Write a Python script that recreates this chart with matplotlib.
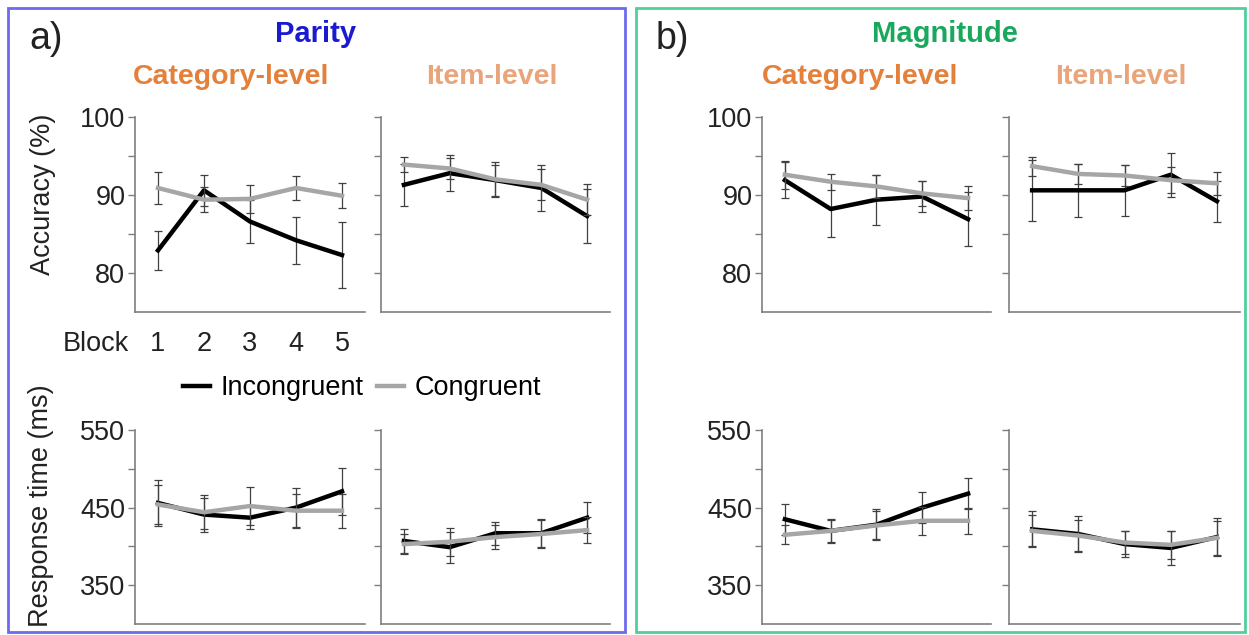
import matplotlib
matplotlib.use("Agg")
import matplotlib.pyplot as plt
import numpy as np
from matplotlib.patches import Rectangle
from matplotlib.lines import Line2D

plt.rcParams['font.family'] = ['Liberation Sans', 'DejaVu Sans']

blocks = [1, 2, 3, 4, 5]

# Parity - Category-level
par_cat_acc_inc = [82.9, 90.6, 86.6, 84.2, 82.3]
par_cat_acc_inc_err = [2.5, 2.0, 2.8, 3.0, 4.2]
par_cat_acc_con = [90.9, 89.4, 89.5, 90.9, 89.9]
par_cat_acc_con_err = [2.0, 1.6, 1.8, 1.5, 1.6]
par_cat_rt_inc = [456, 441, 437, 450, 471]
par_cat_rt_inc_err = [30, 22, 15, 25, 30]
par_cat_rt_con = [454, 444, 452, 446, 446]
par_cat_rt_con_err = [25, 22, 25, 22, 22]

# Parity - Item-level
par_item_acc_inc = [91.3, 92.8, 91.9, 90.9, 87.3]
par_item_acc_inc_err = [2.7, 2.3, 2.0, 3.0, 3.5]
par_item_acc_con = [93.9, 93.4, 92.0, 91.3, 89.4]
par_item_acc_con_err = [1.0, 1.3, 2.2, 2.0, 2.0]
par_item_rt_inc = [407, 399, 417, 417, 437]
par_item_rt_inc_err = [15, 20, 15, 18, 20]
par_item_rt_con = [403, 406, 412, 416, 421]
par_item_rt_con_err = [13, 18, 15, 18, 17]

# Magnitude - Category-level
mag_cat_acc_inc = [91.9, 88.2, 89.4, 89.8, 86.9]
mag_cat_acc_inc_err = [2.3, 3.6, 3.2, 2.0, 3.5]
mag_cat_acc_con = [92.6, 91.7, 91.1, 90.2, 89.6]
mag_cat_acc_con_err = [1.8, 1.0, 1.5, 1.6, 1.5]
mag_cat_rt_inc = [435, 420, 428, 450, 468]
mag_cat_rt_inc_err = [20, 15, 20, 20, 20]
mag_cat_rt_con = [415, 420, 427, 433, 433]
mag_cat_rt_con_err = [12, 14, 18, 18, 17]

# Magnitude - Item-level
mag_item_acc_inc = [90.6, 90.6, 90.6, 92.6, 89.2]
mag_item_acc_inc_err = [3.9, 3.4, 3.3, 2.8, 2.6]
mag_item_acc_con = [93.7, 92.7, 92.5, 91.9, 91.5]
mag_item_acc_con_err = [1.2, 1.3, 1.3, 1.7, 1.5]
mag_item_rt_inc = [422, 416, 403, 398, 412]
mag_item_rt_inc_err = [23, 23, 17, 22, 25]
mag_item_rt_con = [420, 414, 405, 402, 411]
mag_item_rt_con_err = [20, 20, 15, 18, 22]

INC = '#000000'
CON = '#a6a6a6'
SPINE = '#7f7f7f'
ERR = '#404040'
FS = 19.5

fig = plt.figure(figsize=(12.49, 6.35), dpi=100)
W, H = 1249, 635

def ax_at(x0, x1, y0, y1):
    return fig.add_axes([x0 / W, 1 - y1 / H, (x1 - x0) / W, (y1 - y0) / H])

def draw(ax, inc, inc_e, con, con_e, ylim, major, minor, labels):
    ax.errorbar(blocks, con, yerr=con_e, color=CON, lw=3.2, ecolor=ERR,
                elinewidth=0.9, capsize=3, capthick=0.9, zorder=3)
    ax.errorbar(blocks, inc, yerr=inc_e, color=INC, lw=3.2, ecolor=ERR,
                elinewidth=0.9, capsize=3, capthick=0.9, zorder=2)
    ax.set_xlim(0.5, 5.5)
    ax.set_ylim(*ylim)
    for s in ['top', 'right']:
        ax.spines[s].set_visible(False)
    for s in ['left', 'bottom']:
        ax.spines[s].set_color(SPINE)
        ax.spines[s].set_linewidth(1.2)
    ax.set_xticks([])
    ax.set_yticks(major)
    ax.set_yticks(minor, minor=True)
    ax.tick_params(axis='y', which='both', direction='out', length=5,
                   width=1, color=SPINE, labelsize=FS, pad=2,
                   labelcolor='#222222')
    if not labels:
        ax.set_yticklabels([])
    ax.set_facecolor('none')

acc_lim = (75, 100)
acc_major = [80, 90, 100]
acc_minor = [85, 95]
rt_lim = (300, 550)
rt_major = [350, 450, 550]
rt_minor = [400, 500]

top = (117, 312)
bot = (430, 624)
cols = [(135, 365), (381, 610), (762, 991), (1009, 1240)]

datasets = [
    (par_cat_acc_inc, par_cat_acc_inc_err, par_cat_acc_con, par_cat_acc_con_err,
     par_cat_rt_inc, par_cat_rt_inc_err, par_cat_rt_con, par_cat_rt_con_err, True),
    (par_item_acc_inc, par_item_acc_inc_err, par_item_acc_con, par_item_acc_con_err,
     par_item_rt_inc, par_item_rt_inc_err, par_item_rt_con, par_item_rt_con_err, False),
    (mag_cat_acc_inc, mag_cat_acc_inc_err, mag_cat_acc_con, mag_cat_acc_con_err,
     mag_cat_rt_inc, mag_cat_rt_inc_err, mag_cat_rt_con, mag_cat_rt_con_err, True),
    (mag_item_acc_inc, mag_item_acc_inc_err, mag_item_acc_con, mag_item_acc_con_err,
     mag_item_rt_inc, mag_item_rt_inc_err, mag_item_rt_con, mag_item_rt_con_err, False),
]

axes_top = []
for (x0, x1), d in zip(cols, datasets):
    a1 = ax_at(x0, x1, *top)
    draw(a1, d[0], d[1], d[2], d[3], acc_lim, acc_major, acc_minor, d[8])
    a2 = ax_at(x0, x1, *bot)
    draw(a2, d[4], d[5], d[6], d[7], rt_lim, rt_major, rt_minor, d[8])
    axes_top.append(a1)

# Panel frames
fig.patches.append(Rectangle((8 / W, 1 - 632 / H), (625 - 8) / W, (632 - 8) / H,
                             transform=fig.transFigure, fill=False,
                             edgecolor='#6b6bec', lw=2.0))
fig.patches.append(Rectangle((636 / W, 1 - 632 / H), (1245 - 636) / W, (632 - 8) / H,
                             transform=fig.transFigure, fill=False,
                             edgecolor='#4fcf9a', lw=2.0))

def ftext(x, y, s, **kw):
    fig.text(x / W, 1 - y / H, s, **kw)

ftext(29, 39, 'a)', fontsize=27, ha='left', va='center', color='#222222')
ftext(656, 39, 'b)', fontsize=27, ha='left', va='center', color='#222222')
ftext(316, 34, 'Parity', fontsize=21, fontweight='bold', ha='center', va='center', color='#1a1ad0')
ftext(945, 34, 'Magnitude', fontsize=21, fontweight='bold', ha='center', va='center', color='#19a85c')
for cx in (231, 860):
    ftext(cx, 77, 'Category-level', fontsize=20.5, fontweight='bold', ha='center', va='center', color='#e5803a')
for cx in (492, 1121):
    ftext(cx, 77, 'Item-level', fontsize=20.5, fontweight='bold', ha='center', va='center', color='#eaa47a')

ftext(43, 194, 'Accuracy (%)', fontsize=FS, rotation=90, ha='center', va='center', color='#222222')
ftext(41, 506, 'Response time (ms)', fontsize=FS, rotation=90, ha='center', va='center', color='#222222')

# Block labels below the first accuracy axes
ax0 = axes_top[0]
ftext(96, 344, 'Block', fontsize=FS, ha='center', va='center', color='#222222')
for b in blocks:
    xd = ax0.transData.transform((b, 0))[0]
    fig.text(xd / W, 1 - 344 / H, str(b), fontsize=FS, ha='center', va='center',
             color='#222222')

# Legend
handles = [Line2D([], [], color=INC, lw=3.2), Line2D([], [], color=CON, lw=3.2)]
fig.legend(handles, ['Incongruent', 'Congruent'], loc='center',
           bbox_to_anchor=(362 / W, 1 - 388 / H), ncol=2, frameon=False,
           fontsize=FS, handlelength=1.0, handletextpad=0.4, columnspacing=0.5)

fig.savefig('out.png', dpi=100)
